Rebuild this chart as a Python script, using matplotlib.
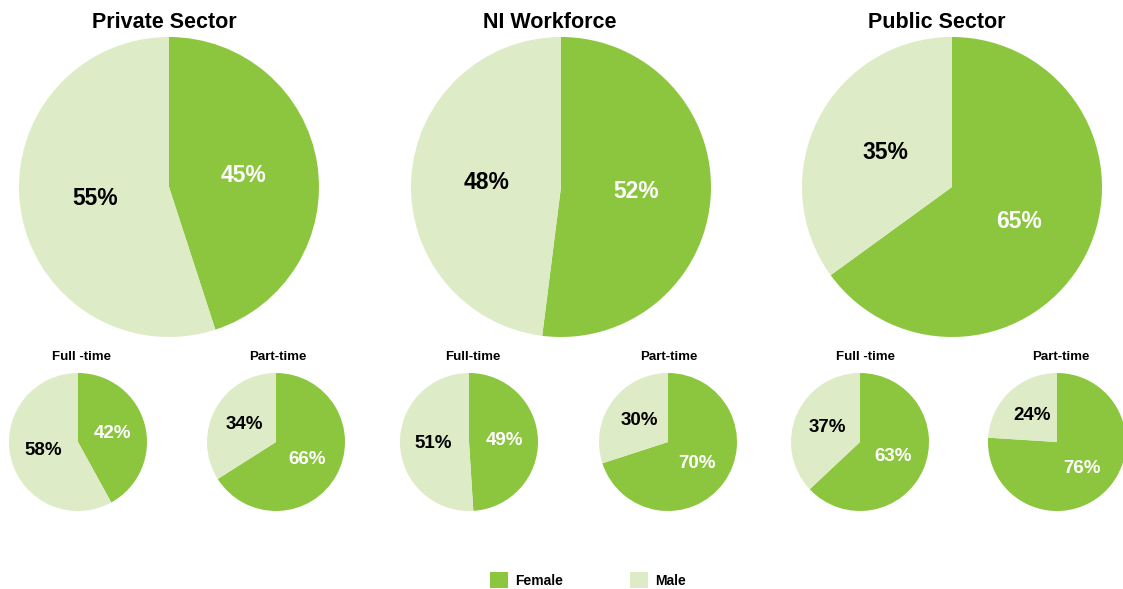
import matplotlib
matplotlib.use("Agg")
import matplotlib.pyplot as plt
from matplotlib.patches import Patch

W, H = 1123, 589

# ---- data ----
big_titles = ["Private Sector", "NI Workforce", "Public Sector"]
big_female = [45, 52, 65]
big_male = [55, 48, 35]

small_titles = ["Full -time", "Part-time", "Full-time", "Part-time", "Full -time", "Part-time"]
small_female = [42, 66, 49, 70, 63, 76]
small_male = [58, 34, 51, 30, 37, 24]

legend_labels = ["Female", "Male"]

FEMALE = "#8cc63f"
MALE = "#deebc7"
FONT = ["Liberation Sans", "DejaVu Sans"]

fig = plt.figure(figsize=(W / 100, H / 100), dpi=100)
fig.patch.set_facecolor("white")


def add_pie(cx, cy, r, female, male, fsize, pct):
    ax = fig.add_axes([(cx - r) / W, 1 - (cy + r) / H, 2 * r / W, 2 * r / H])
    wedges, texts, autotexts = ax.pie(
        [female, male], colors=[FEMALE, MALE], startangle=90, counterclock=False,
        radius=1, autopct=lambda p: f"{p:.0f}%", pctdistance=pct,
        wedgeprops=dict(linewidth=0),
        textprops=dict(fontsize=fsize, fontweight="bold", family=FONT))
    autotexts[0].set_color("white")
    autotexts[1].set_color("black")
    ax.set_xlim(-1, 1)
    ax.set_ylim(-1, 1)
    ax.set_aspect("equal")
    ax.axis("off")
    return ax


big_cx = [169, 561, 952]
for i in range(3):
    add_pie(big_cx[i], 187, 150, big_female[i], big_male[i], 16.5, 0.5)

big_title_x = [164, 550, 937]
for i in range(3):
    fig.text(big_title_x[i] / W, 1 - 23 / H, big_titles[i], ha="center", va="center",
             fontsize=15.5, fontweight="bold", family=FONT)

small_cx = [78, 276, 469, 668, 860, 1057]
small_title_x = [81, 278, 473, 669, 865, 1061]
for i in range(6):
    add_pie(small_cx[i], 442, 69, small_female[i], small_male[i], 13.5, 0.52)
    fig.text(small_title_x[i] / W, 1 - 357 / H, small_titles[i], ha="center", va="center",
             fontsize=9.5, fontweight="bold", family=FONT)

handles = [Patch(facecolor=FEMALE, edgecolor="none"), Patch(facecolor=MALE, edgecolor="none")]
fig.legend(handles, legend_labels, ncol=2, loc="center",
           bbox_to_anchor=(588 / W, 1 - 580 / H), frameon=False,
           handlelength=1.3, handleheight=1.3, handletextpad=0.5, columnspacing=4.8,
           prop=dict(family=FONT, weight="bold", size=10))

fig.savefig("out.png", dpi=100, facecolor="white")
